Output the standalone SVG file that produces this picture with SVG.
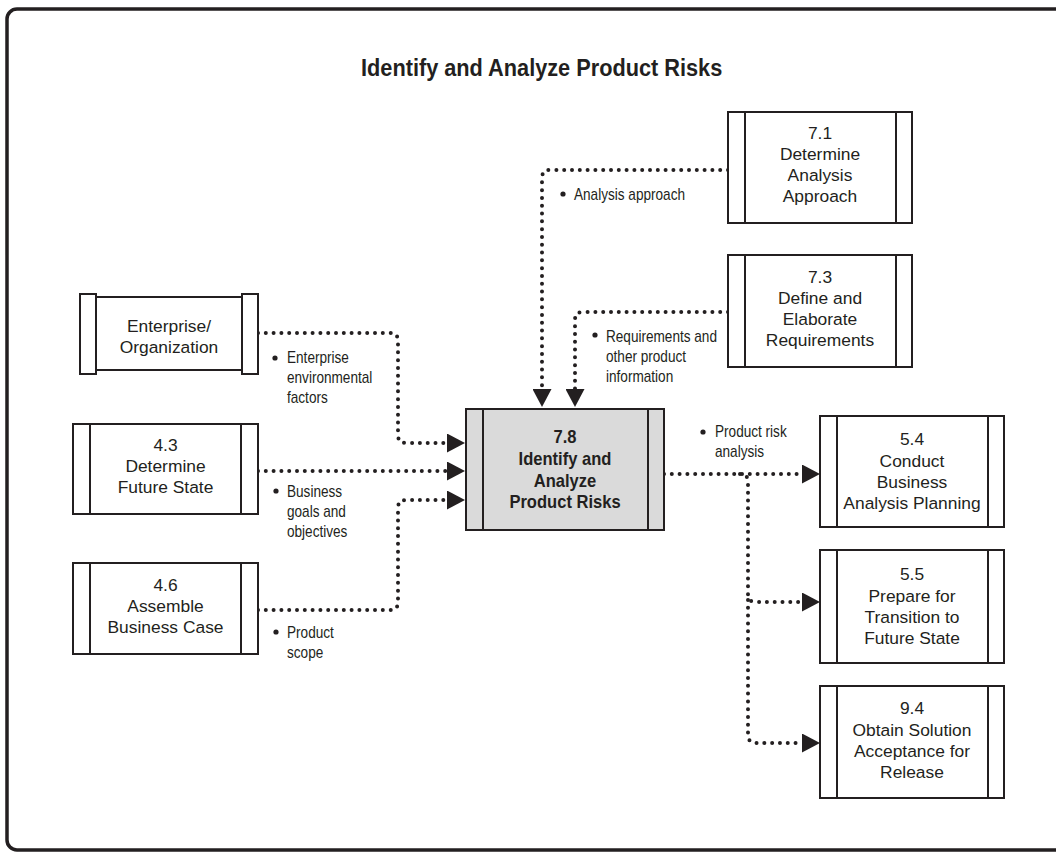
<svg xmlns="http://www.w3.org/2000/svg" width="1056" height="853" viewBox="0 0 1056 853">
<defs>
<style>
.frame{fill:none;stroke:#231f20;stroke-width:3.5}
.box{fill:#fff;stroke:#231f20;stroke-width:2}
.main{fill:#dadada}
.bar{fill:none;stroke:#231f20;stroke-width:2}
.nt{font-family:"Liberation Sans",Arial,sans-serif;font-size:17.4px;fill:#231f20;text-anchor:middle}
.mt{font-family:"Liberation Sans",Arial,sans-serif;font-size:18px;font-weight:bold;fill:#231f20;text-anchor:middle}
.lbl{font-family:"Liberation Sans",Arial,sans-serif;font-size:16px;fill:#231f20}
.title{font-family:"Liberation Sans",Arial,sans-serif;font-size:23px;font-weight:bold;fill:#231f20}
.dot{fill:none;stroke:#231f20;stroke-width:4;stroke-linecap:round;stroke-dasharray:0 7.8;marker-end:url(#ah)}
.bul{fill:#231f20}
</style>
<marker id="ah" markerUnits="userSpaceOnUse" viewBox="0 0 18 19" markerWidth="18" markerHeight="19" refX="0" refY="9.5" orient="auto"><path d="M0,0 L18,9.5 L0,19 Z" fill="#231f20"/></marker>
</defs>
<rect class="frame" x="7" y="9" width="1110" height="841" rx="10"/>
<g transform="translate(361,0) scale(0.945,1)"><text class="title" x="0" y="76">Identify and Analyze Product Risks</text></g>

<g id="connectors">
<path class="dot" d="M258,333 H390 Q398,333 398,341 V435 Q398,443 406,443 H447"/>
<path class="dot" d="M258,471 H447"/>
<path class="dot" d="M258,610 H390 Q398,610 398,602 V508 Q398,500 406,500 H447"/>
<path class="dot" d="M728,170 H550 Q542,170 542,178 V389"/>
<path class="dot" d="M728,312 H583 Q575,312 575,320 V389"/>
<path class="dot" d="M664,474 H802"/>
<path class="dot" d="M740,474 Q748,474 748,482 V594 Q748,602 756,602 H802"/>
<path class="dot" d="M748,600 V735 Q748,743 756,743 H802"/>
</g>

<g id="labels">
<circle class="bul" cx="275" cy="358" r="2.6"/>
<g transform="translate(287,0) scale(0.85,1)"><text class="lbl"><tspan x="0" y="363">Enterprise</tspan><tspan x="0" y="383">environmental</tspan><tspan x="0" y="403">factors</tspan></text></g>
<circle class="bul" cx="276" cy="491" r="2.6"/>
<g transform="translate(287,0) scale(0.85,1)"><text class="lbl"><tspan x="0" y="497">Business</tspan><tspan x="0" y="517">goals and</tspan><tspan x="0" y="537">objectives</tspan></text></g>
<circle class="bul" cx="276" cy="632" r="2.6"/>
<g transform="translate(287,0) scale(0.85,1)"><text class="lbl"><tspan x="0" y="638">Product</tspan><tspan x="0" y="658">scope</tspan></text></g>
<circle class="bul" cx="563" cy="194" r="2.6"/>
<g transform="translate(574,0) scale(0.85,1)"><text class="lbl" x="0" y="200">Analysis approach</text></g>
<circle class="bul" cx="595" cy="335" r="2.6"/>
<g transform="translate(606,0) scale(0.85,1)"><text class="lbl"><tspan x="0" y="342">Requirements and</tspan><tspan x="0" y="362">other product</tspan><tspan x="0" y="382">information</tspan></text></g>
<circle class="bul" cx="703" cy="432" r="2.6"/>
<g transform="translate(715,0) scale(0.85,1)"><text class="lbl"><tspan x="0" y="437">Product risk</tspan><tspan x="0" y="457">analysis</tspan></text></g>
</g>

<g id="enterprise">
<rect class="box" x="80" y="294" width="16" height="80"/>
<rect class="box" x="242" y="294" width="16" height="80"/>
<path class="bar" d="M96,297 H242 M96,370 H242"/>
<text class="nt"><tspan x="169" y="332">Enterprise/</tspan><tspan x="169" y="353">Organization</tspan></text>
</g>

<g id="n43">
<rect class="box" x="73" y="424" width="185" height="90"/>
<path class="bar" d="M90,424 V514 M241,424 V514"/>
<text class="nt"><tspan x="165.5" y="451">4.3</tspan><tspan x="165.5" y="472">Determine</tspan><tspan x="165.5" y="493">Future State</tspan></text>
</g>

<g id="n46">
<rect class="box" x="73" y="563" width="185" height="91"/>
<path class="bar" d="M90,563 V654 M241,563 V654"/>
<text class="nt"><tspan x="165.5" y="591">4.6</tspan><tspan x="165.5" y="612">Assemble</tspan><tspan x="165.5" y="633">Business Case</tspan></text>
</g>

<g id="n78">
<rect class="box main" x="466" y="409" width="198" height="121"/>
<path class="bar" d="M483,409 V530 M648,409 V530"/>
<g transform="translate(565,0) scale(0.92,1)"><text class="mt"><tspan x="0" y="443">7.8</tspan><tspan x="0" y="465">Identify and</tspan><tspan x="0" y="487">Analyze</tspan><tspan x="0" y="508">Product Risks</tspan></text></g>
</g>

<g id="n71">
<rect class="box" x="728" y="112" width="184" height="111"/>
<path class="bar" d="M745,112 V223 M896,112 V223"/>
<text class="nt"><tspan x="820" y="139">7.1</tspan><tspan x="820" y="160">Determine</tspan><tspan x="820" y="181">Analysis</tspan><tspan x="820" y="202">Approach</tspan></text>
</g>

<g id="n73">
<rect class="box" x="728" y="255" width="184" height="112"/>
<path class="bar" d="M745,255 V367 M896,255 V367"/>
<text class="nt"><tspan x="820" y="283">7.3</tspan><tspan x="820" y="304">Define and</tspan><tspan x="820" y="325">Elaborate</tspan><tspan x="820" y="346">Requirements</tspan></text>
</g>

<g id="n54">
<rect class="box" x="820" y="416" width="184" height="111"/>
<path class="bar" d="M837,416 V527 M988,416 V527"/>
<text class="nt"><tspan x="912" y="445">5.4</tspan><tspan x="912" y="467">Conduct</tspan><tspan x="912" y="488">Business</tspan><tspan x="912" y="509">Analysis Planning</tspan></text>
</g>

<g id="n55">
<rect class="box" x="820" y="550" width="184" height="113"/>
<path class="bar" d="M837,550 V663 M988,550 V663"/>
<text class="nt"><tspan x="912" y="580">5.5</tspan><tspan x="912" y="602">Prepare for</tspan><tspan x="912" y="623">Transition to</tspan><tspan x="912" y="644">Future State</tspan></text>
</g>

<g id="n94">
<rect class="box" x="820" y="686" width="184" height="112"/>
<path class="bar" d="M837,686 V798 M988,686 V798"/>
<text class="nt"><tspan x="912" y="714">9.4</tspan><tspan x="912" y="736">Obtain Solution</tspan><tspan x="912" y="757">Acceptance for</tspan><tspan x="912" y="778">Release</tspan></text>
</g>
</svg>
